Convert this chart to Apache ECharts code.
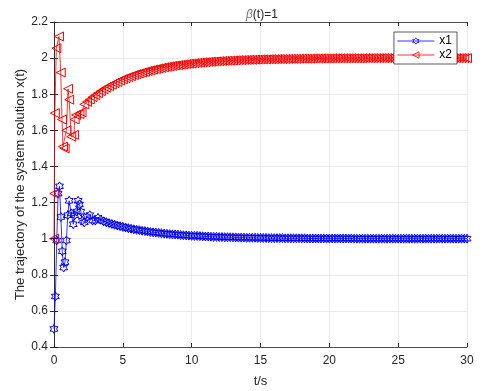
<!DOCTYPE html>
<html>
<head>
<meta charset="utf-8">
<script src="https://cdn.jsdelivr.net/npm/echarts@6/dist/echarts.min.js"></script>
<style>
  html, body { margin: 0; padding: 0; background: #fff; }
  #chart { width: 484px; height: 391px; }
</style>
</head>
<body>
<div id="chart"></div>
<script>
// transient part
const tEarly1 = [0, 0.1, 0.2, 0.3, 0.4, 0.5, 0.6, 0.7, 0.8, 0.9, 1.0, 1.1, 1.25, 1.4, 1.5, 1.65, 1.75, 1.85, 1.95, 2.05];
const x1Early = [0.50, 0.68, 0.99, 1.25, 1.29, 1.12, 0.93, 0.84, 0.87, 0.99, 1.13, 1.21, 1.14, 1.08, 1.13, 1.15, 1.21, 1.19, 1.15, 1.10];

const tEarly2 = [0, 0.02, 0.06, 0.17, 0.36, 0.49, 0.58, 0.65, 0.77, 0.9, 1.02, 1.1, 1.25, 1.45, 1.5, 1.6, 1.85, 2.0];
const x2Early = [1.00, 1.25, 1.695, 2.055, 2.12, 1.92, 1.66, 1.51, 1.50, 1.60, 1.83, 1.77, 1.565, 1.575, 1.66, 1.685, 1.69, 1.70];

// smooth part
const tTail = [
  2.2, 2.4, 2.6, 2.8, 3.0, 3.2, 3.4, 3.6, 3.8, 4.0, 4.2, 4.4, 4.6, 4.8, 5.0, 5.2, 5.4, 5.6, 5.8, 6.0,
  6.2, 6.4, 6.6, 6.8, 7.0, 7.2, 7.4, 7.6, 7.8, 8.0, 8.2, 8.4, 8.6, 8.8, 9.0, 9.2, 9.4, 9.6, 9.8, 10.0,
  10.2, 10.4, 10.6, 10.8, 11.0, 11.2, 11.4, 11.6, 11.8, 12.0, 12.2, 12.4, 12.6, 12.8, 13.0, 13.2, 13.4, 13.6, 13.8, 14.0, 14.2, 14.4, 14.6, 14.8, 15.0,
  15.2, 15.4, 15.6, 15.8, 16.0, 16.2, 16.4, 16.6, 16.8, 17.0, 17.2, 17.4, 17.6, 17.8, 18.0, 18.2, 18.4, 18.6, 18.8, 19.0, 19.2, 19.4, 19.6, 19.8, 20.0,
  20.2, 20.4, 20.6, 20.8, 21.0, 21.2, 21.4, 21.6, 21.8, 22.0, 22.2, 22.4, 22.6, 22.8, 23.0, 23.2, 23.4, 23.6, 23.8, 24.0, 24.2, 24.4, 24.6, 24.8, 25.0,
  25.2, 25.4, 25.6, 25.8, 26.0, 26.2, 26.4, 26.6, 26.8, 27.0, 27.2, 27.4, 27.6, 27.8, 28.0, 28.2, 28.4, 28.6, 28.8, 29.0, 29.2, 29.4, 29.6, 29.8, 30.0
];
const x1Tail = [
  1.09, 1.12, 1.13, 1.10, 1.10, 1.115, 1.105, 1.096, 1.091, 1.086, 1.081, 1.077, 1.073, 1.069, 1.065, 1.062, 1.058, 1.055, 1.052, 1.049,
  1.047, 1.044, 1.042, 1.040, 1.037, 1.035, 1.034, 1.032, 1.030, 1.028, 1.027, 1.025, 1.024, 1.023, 1.022, 1.020, 1.019, 1.018, 1.017, 1.016,
  1.015, 1.015, 1.014, 1.013, 1.012, 1.012, 1.011, 1.010, 1.010, 1.009, 1.009, 1.008, 1.008, 1.008, 1.007, 1.007, 1.006, 1.006, 1.006, 1.005, 1.005, 1.005, 1.005, 1.004, 1.004,
  1.004, 1.004, 1.003, 1.003, 1.003, 1.003, 1.003, 1.003, 1.002, 1.002, 1.002, 1.002, 1.002, 1.002, 1.002, 1.002, 1.001, 1.001, 1.001, 1.001, 1.001, 1.001, 1.001, 1.001, 1.001,
  1.001, 1.001, 1.001, 1.001, 1.001, 1.001, 1.001, 1.001, 1, 1, 1, 1, 1, 1, 1, 1, 1, 1, 1, 1, 1, 1, 1, 1, 1,
  1, 1, 1, 1, 1, 1, 1, 1, 1, 1, 1, 1, 1, 1, 1, 1, 1, 1, 1, 1, 1, 1, 1, 1, 1
];
const x2Tail = [
  1.744, 1.758, 1.771, 1.784, 1.795, 1.806, 1.817, 1.827, 1.836, 1.845, 1.853, 1.861, 1.868, 1.876, 1.883, 1.889, 1.895, 1.900, 1.906, 1.911,
  1.915, 1.920, 1.924, 1.929, 1.932, 1.936, 1.939, 1.943, 1.946, 1.949, 1.952, 1.954, 1.957, 1.959, 1.961, 1.963, 1.965, 1.967, 1.969, 1.970,
  1.972, 1.974, 1.975, 1.977, 1.977, 1.979, 1.980, 1.981, 1.982, 1.983, 1.984, 1.985, 1.986, 1.986, 1.987, 1.988, 1.989, 1.989, 1.990, 1.990, 1.991, 1.991, 1.992, 1.992, 1.993,
  1.993, 1.993, 1.994, 1.994, 1.994, 1.995, 1.995, 1.995, 1.995, 1.996, 1.996, 1.996, 1.996, 1.997, 1.997, 1.997, 1.997, 1.997, 1.998, 1.998, 1.998, 1.998, 1.998, 1.998, 1.998,
  1.999, 1.999, 1.999, 1.999, 1.999, 1.999, 1.999, 1.999, 1.999, 1.999, 1.999, 1.999, 2, 2, 2, 2, 2, 2, 2, 2, 2, 2, 2, 2, 2,
  2, 2, 2, 2, 2, 2, 2, 2, 2, 2, 2, 2, 2, 2, 2, 2, 2, 2, 2, 2, 2, 2, 2, 2, 2
];

const xTicks = { min: 0, max: 30, interval: 5 };
const yTicks = { min: 0.4, max: 2.2, interval: 0.2 };

const hexagram = 'path://M10,0 L12.89,5 L18.66,5 L15.77,10 L18.66,15 L12.89,15 L10,20 L7.11,15 L1.34,15 L4.23,10 L1.34,5 L7.11,5 Z';
const triLeft = 'path://M0,5 L10,0 L10,10 Z';

function pairs(ts, vs) {
  return ts.map((t, i) => [t, vs[i]]);
}

const axisColor = '#262626';
const font = '"Liberation Sans", Arial, sans-serif';
const hollow = 'rgba(0,0,0,0)';

const chart = echarts.init(document.getElementById('chart'));
chart.setOption({
  animation: false,
  textStyle: { fontFamily: font },
  title: {
    text: '{b|β}(t)=1',
    left: 241,
    top: 4,
    textStyle: {
      fontSize: 12,
      fontWeight: 'normal',
      color: axisColor,
      fontFamily: font,
      rich: {
        b: { fontSize: 12, fontStyle: 'italic', color: '#777', fontFamily: font }
      }
    }
  },
  grid: { left: 54, right: 17, top: 22, bottom: 44, outerBoundsMode: 'none' },
  legend: {
    orient: 'vertical',
    right: 27,
    top: 32,
    backgroundColor: '#fff',
    borderColor: '#333',
    borderWidth: 0.8,
    borderRadius: 0,
    padding: [3, 5, 3, 3],
    itemGap: 2,
    itemWidth: 37,
    itemHeight: 8,
    textStyle: { fontSize: 12, color: '#000', fontFamily: font },
    data: [
      { name: 'x1', itemStyle: { color: hollow, borderColor: '#0000ff', borderWidth: 0.8 }, lineStyle: { width: 0.8 } },
      { name: 'x2', itemStyle: { color: hollow, borderColor: '#ff0000', borderWidth: 0.8 }, lineStyle: { width: 0.8 } }
    ]
  },
  xAxis: [{
    type: 'value',
    min: xTicks.min, max: xTicks.max, interval: xTicks.interval,
    name: 't/s',
    nameLocation: 'middle',
    nameGap: 28,
    nameMoveOverlap: false,
    nameTextStyle: { fontSize: 13, color: axisColor },
    axisLine: { lineStyle: { color: axisColor, width: 0.8 } },
    axisTick: { inside: true, length: 4, lineStyle: { color: axisColor } },
    axisLabel: { fontSize: 12, color: axisColor, margin: 8 },
    splitLine: { show: true, lineStyle: { color: '#e6e6e6', width: 0.8 } }
  }, {
    type: 'value', position: 'top',
    min: xTicks.min, max: xTicks.max, interval: xTicks.interval,
    axisLine: { show: true, lineStyle: { color: axisColor, width: 0.8 } },
    axisTick: { show: true, inside: true, length: 4, lineStyle: { color: axisColor } },
    axisLabel: { show: false },
    splitLine: { show: false }
  }],
  yAxis: [{
    type: 'value',
    min: yTicks.min, max: yTicks.max, interval: yTicks.interval,
    name: 'The trajectory of the system solution x(t)',
    nameLocation: 'middle',
    nameGap: 27,
    nameMoveOverlap: false,
    nameTextStyle: { fontSize: 13, color: axisColor },
    axisLine: { show: true, lineStyle: { color: axisColor, width: 0.8 } },
    axisTick: { show: true, inside: true, length: 4, lineStyle: { color: axisColor } },
    axisLabel: { fontSize: 12, color: axisColor, margin: 6 },
    splitLine: { show: true, lineStyle: { color: '#e6e6e6', width: 0.8 } }
  }, {
    type: 'value', position: 'right',
    min: yTicks.min, max: yTicks.max, interval: yTicks.interval,
    axisLine: { show: true, lineStyle: { color: axisColor, width: 0.8 } },
    axisTick: { show: true, inside: true, length: 4, lineStyle: { color: axisColor } },
    axisLabel: { show: false },
    splitLine: { show: false }
  }],
  series: [{
    name: 'x1',
    type: 'line',
    data: pairs(tEarly1, x1Early).concat(pairs(tTail, x1Tail)),
    symbol: hexagram,
    symbolSize: 9,
    symbolKeepAspect: true,
    showAllSymbol: true,
    lineStyle: { color: '#0000ff', width: 0.8 },
    itemStyle: { color: hollow, borderColor: '#0000ff', borderWidth: 1 }
  }, {
    name: 'x2',
    type: 'line',
    data: pairs(tEarly2, x2Early).concat(pairs(tTail, x2Tail)),
    symbol: triLeft,
    symbolSize: 9,
    symbolKeepAspect: true,
    showAllSymbol: true,
    lineStyle: { color: '#ff0000', width: 0.8 },
    itemStyle: { color: hollow, borderColor: '#ff0000', borderWidth: 1 }
  }]
});
</script>
</body>
</html>
